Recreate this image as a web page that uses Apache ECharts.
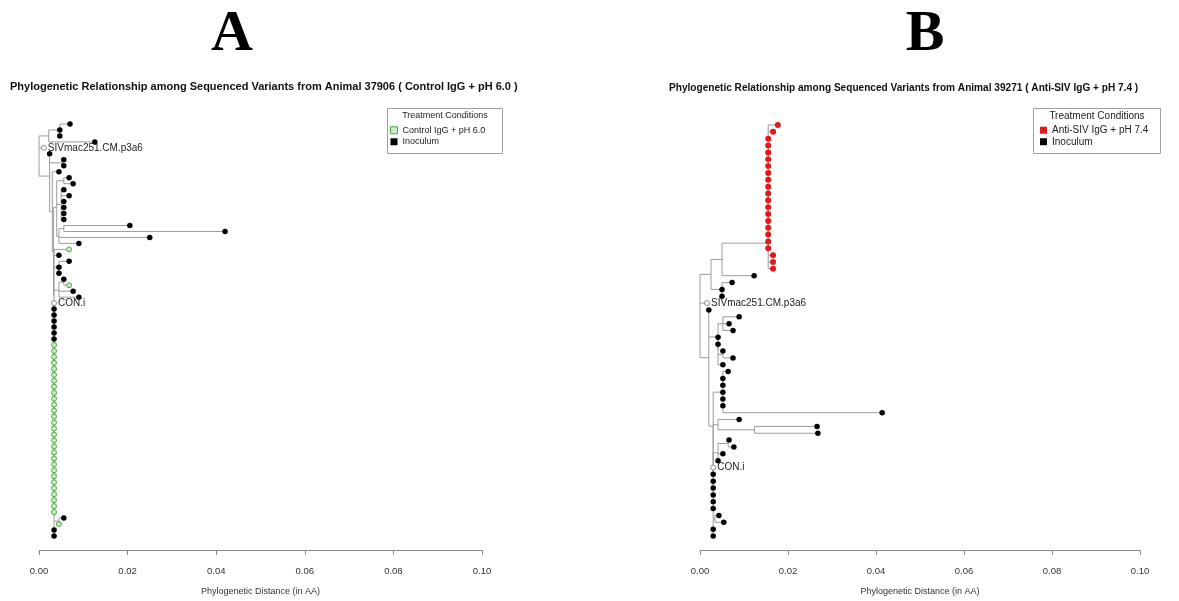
<!DOCTYPE html>
<html><head><meta charset="utf-8">
<script src="https://cdn.jsdelivr.net/npm/echarts@6/dist/echarts.min.js"></script>
<style>html,body{margin:0;padding:0;background:#fff;overflow:hidden}#c{width:1179px;height:601px}</style>
</head><body><div id="c"></div>
<script>
// ---------- Panel A data (tips listed top to bottom) ----------
const aTipDist = [
  0.0070,0.0047,0.0047,0.0126,0.0011,0.0024,0.0056,0.0056,0.0045,0.0068,
  0.0077,0.0056,0.0068,0.0056,0.0056,0.0056,0.0056,0.0205,0.0420,0.0250,
  0.0090,0.0068,0.0045,0.0068,0.0045,0.0045,0.0056,0.0068,0.0077,0.0090,
  0.0034,0.0034,0.0034,0.0034,0.0034,0.0034,0.0034,0.0034,0.0034,0.0034,
  0.0034,0.0034,0.0034,0.0034,0.0034,0.0034,0.0034,0.0034,0.0034,0.0034,
  0.0034,0.0034,0.0034,0.0034,0.0034,0.0034,0.0034,0.0034,0.0034,0.0034,
  0.0034,0.0034,0.0034,0.0034,0.0034,0.0034,0.0056,0.0045,0.0034,0.0034
];
const aTipGroup = [
  'I','I','I','I','R','I','I','I','I','I',
  'I','I','I','I','I','I','I','I','I','I',
  'I','T','I','I','I','I','I','T','I','I',
  'R','I','I','I','I','I','I','T','T','T',
  'T','T','T','T','T','T','T','T','T','T',
  'T','T','T','T','T','T','T','T','T','T',
  'T','T','T','T','T','T','I','T','I','I'
];
const aTipLabels = {4:'SIVmac251.CM.p3a6', 30:'CON.i'};
// clades: [node distance, first tip, last tip]
const aClades = [
  [0,0,69],[0.0022,0,3],[0.0047,0,2],[0.0024,5,69],[0.0052,6,7],
  [0.0030,8,69],[0.0033,9,69],[0.0040,9,20],[0.0056,9,10],[0.0050,11,16],
  [0.0045,17,20],[0.0056,17,18],[0.0034,21,69],[0.0045,23,25],[0.0045,26,29],
  [0.0056,26,27],[0.0034,30,69],[0.0045,66,67]
];
const aTreatName = 'Control IgG + pH 6.0';
const aTitle = 'Phylogenetic Relationship among Sequenced Variants from Animal 37906 ( Control IgG + pH 6.0 )';

// ---------- Panel B data ----------
const bTipDist = [
  0.0177,0.0166,0.0155,0.0155,0.0155,0.0155,0.0155,0.0155,0.0155,0.0155,
  0.0155,0.0155,0.0155,0.0155,0.0155,0.0155,0.0155,0.0155,0.0155,0.0166,
  0.0166,0.0166,0.0123,0.0073,0.0050,0.0050,0.0016,0.0020,0.0089,0.0066,
  0.0075,0.0041,0.0041,0.0052,0.0075,0.0052,0.0064,0.0052,0.0052,0.0052,
  0.0052,0.0052,0.0414,0.0089,0.0266,0.0268,0.0066,0.0077,0.0052,0.0041,
  0.0030,0.0030,0.0030,0.0030,0.0030,0.0030,0.0030,0.0043,0.0054,0.0030,
  0.0030
];
const bTipGroup = [
  'T','T','T','T','T','T','T','T','T','T',
  'T','T','T','T','T','T','T','T','T','T',
  'T','T','I','I','I','I','R','I','I','I',
  'I','I','I','I','I','I','I','I','I','I',
  'I','I','I','I','I','I','I','I','I','I',
  'R','I','I','I','I','I','I','I','I','I',
  'I'
];
const bTipLabels = {26:'SIVmac251.CM.p3a6', 50:'CON.i'};
const bClades = [
  [0,0,60],[0.0025,0,25],[0.0050,0,22],[0.0155,0,21],[0.0155,0,18],
  [0.0050,23,25],[0.0020,27,60],[0.0041,28,35],[0.0052,28,30],[0.0041,31,35],
  [0.0052,33,34],[0.0030,36,60],[0.0052,36,42],[0.0030,43,60],[0.0041,43,45],
  [0.0124,44,45],[0.0030,46,60],[0.0041,46,49],[0.0064,46,47],[0.0034,57,58]
];
const bTreatName = 'Anti-SIV IgG + pH 7.4';
const bTitle = 'Phylogenetic Relationship among Sequenced Variants from Animal 39271 ( Anti-SIV IgG + pH 7.4 )';

// ---------- tree layout (ape-style phylogram: node at mean of its direct descendants) ----------
function treeSegments(dist, clades){
  const tips = dist.map((d,i)=>({x:d, from:i, to:i, y:i}));
  const cl = clades.map(c=>({x:c[0], from:c[1], to:c[2], kids:[]}));
  const all = tips.concat(cl);
  all.forEach(nd=>{
    let best=null;
    cl.forEach(c=>{
      if(c!==nd && c.from<=nd.from && nd.to<=c.to && (c.to-c.from)>(nd.to-nd.from)){
        if(!best || (c.to-c.from)<(best.to-best.from)) best=c;
      }
    });
    nd.parent=best;
    if(best) best.kids.push(nd);
  });
  cl.slice().sort((a,b)=>(a.to-a.from)-(b.to-b.from)).forEach(c=>{
    c.kids.sort((a,b)=>a.from-b.from);
    c.y = c.kids.reduce((s,k)=>s+k.y,0)/c.kids.length;
  });
  const segs=[];
  cl.forEach(c=>{
    const ys=c.kids.map(k=>k.y);
    segs.push([c.x, Math.min(...ys), c.x, Math.max(...ys)]);
  });
  all.forEach(nd=>{ if(nd.parent) segs.push([nd.parent.x, nd.y, nd.x, nd.y]); });
  return segs;
}

const treeColor = '#9c9c9c';
const treatStyleA = {color:'#c9ecc4', borderColor:'#4fa84a', borderWidth:1, opacity:1};
const treatStyleB = {color:'#e31a1c', borderColor:'#e31a1c', borderWidth:0, opacity:1};

function panelSeries(k, dist, groups, labels, clades, treatName, treatStyle, treatSize){
  const segs = treeSegments(dist, clades);
  const pts = g => dist.map((d,i)=>groups[i]===g ? [d,i] : null).filter(v=>v);
  const refPts = dist.map((d,i)=>groups[i]==='R' ? {value:[d,i], label:{show:true, formatter:labels[i]}} : null).filter(v=>v);
  return [
    {type:'custom', xAxisIndex:k, yAxisIndex:k, silent:true, z:1, data:segs,
     encode:{x:[0,2], y:[1,3]},
     renderItem:(p, api)=>{
       const p1=api.coord([api.value(0),api.value(1)]);
       const p2=api.coord([api.value(2),api.value(3)]);
       return {type:'line', shape:{x1:p1[0],y1:p1[1],x2:p2[0],y2:p2[1]},
               style:{stroke:treeColor, lineWidth:1}};
     }},
    {type:'scatter', name:'Inoculum', xAxisIndex:k, yAxisIndex:k, z:3, symbol:'circle', symbolSize:5.5,
     itemStyle:{color:'#000', opacity:1}, data:pts('I'), silent:true},
    {type:'scatter', name:treatName, xAxisIndex:k, yAxisIndex:k, z:3, symbol:'circle', symbolSize:treatSize,
     itemStyle:treatStyle, data:pts('T'), silent:true},
    {type:'scatter', name:'ref', xAxisIndex:k, yAxisIndex:k, z:3, symbol:'circle', symbolSize:5,
     itemStyle:{color:'#fff', borderColor:'#8a8a8a', borderWidth:1, opacity:1}, data:refPts, silent:true,
     label:{position:'right', distance:1, color:'#222', fontSize:10, fontFamily:'Liberation Sans'}}
  ];
}

function xAxisCfg(k){
  return {type:'value', gridIndex:k, min:0, max:0.1, interval:0.02, position:'bottom', offset:14,
    axisLine:{show:true, onZero:false, lineStyle:{color:'#8c8c8c'}},
    axisTick:{show:true, length:5, lineStyle:{color:'#8c8c8c'}},
    splitLine:{show:false},
    axisLabel:{color:'#333', fontSize:9.5, fontFamily:'Liberation Sans', margin:16,
      formatter:v=>v.toFixed(2)},
    name:'Phylogenetic Distance (in AA)', nameLocation:'middle', nameGap:37,
    nameTextStyle:{color:'#333', fontSize:9, fontFamily:'Liberation Sans'}};
}
function yAxisCfg(k, n){
  return {type:'value', gridIndex:k, inverse:true, min:0, max:n-1, show:false};
}

function legendCfg(left, treatName, treatStyle, fs){
  return {orient:'vertical', left:left, top:125, padding:0, itemWidth:7, itemHeight:7, itemGap:1,
    selectedMode:false, icon:'rect',
    textStyle:{fontSize:fs, lineHeight:10.5, color:'#222', fontFamily:'Liberation Sans'},
    data:[{name:treatName, itemStyle:treatStyle}, {name:'Inoculum', itemStyle:{color:'#000'}}]};
}

const chart = echarts.init(document.getElementById('c'), null, {renderer:'canvas', width:1179, height:601});
chart.setOption({
  animation:false,
  backgroundColor:'#fff',
  grid:[
    {left:39, width:443, top:124, height:417},
    {left:700, width:440, top:125, height:416}
  ],
  xAxis:[xAxisCfg(0), xAxisCfg(1)],
  yAxis:[yAxisCfg(0, aTipDist.length), yAxisCfg(1, bTipDist.length)],
  legend:[
    legendCfg(390, aTreatName, treatStyleA, 9),
    legendCfg(1040, bTreatName, treatStyleB, 10)
  ],
  graphic:[
    {type:'text', x:232, y:35, style:{text:'A', font:'bold 58px "Liberation Serif"', fill:'#000', textAlign:'center', textVerticalAlign:'middle'}},
    {type:'text', x:925, y:35, style:{text:'B', font:'bold 58px "Liberation Serif"', fill:'#000', textAlign:'center', textVerticalAlign:'middle'}},
    {type:'text', x:10, y:87, style:{text:aTitle, font:'bold 11px "Liberation Sans"', fill:'#111', textVerticalAlign:'middle'}},
    {type:'text', x:669, y:88, style:{text:bTitle, font:'bold 10.1px "Liberation Sans"', fill:'#111', textVerticalAlign:'middle'}},
    {type:'rect', z:-1, shape:{x:387.5, y:108.5, width:115, height:45}, style:{fill:'#fff', stroke:'#a0a0a0', lineWidth:1}},
    {type:'text', x:445, y:116, style:{text:'Treatment Conditions', font:'9px "Liberation Sans"', fill:'#222', textAlign:'center', textVerticalAlign:'middle'}},
    {type:'rect', z:-1, shape:{x:1033.5, y:108.5, width:127, height:45}, style:{fill:'#fff', stroke:'#a0a0a0', lineWidth:1}},
    {type:'text', x:1097, y:116, style:{text:'Treatment Conditions', font:'10px "Liberation Sans"', fill:'#222', textAlign:'center', textVerticalAlign:'middle'}}
  ],
  series: [].concat(
    panelSeries(0, aTipDist, aTipGroup, aTipLabels, aClades, aTreatName, treatStyleA, 5),
    panelSeries(1, bTipDist, bTipGroup, bTipLabels, bClades, bTreatName, treatStyleB, 6)
  )
});
</script></body></html>
